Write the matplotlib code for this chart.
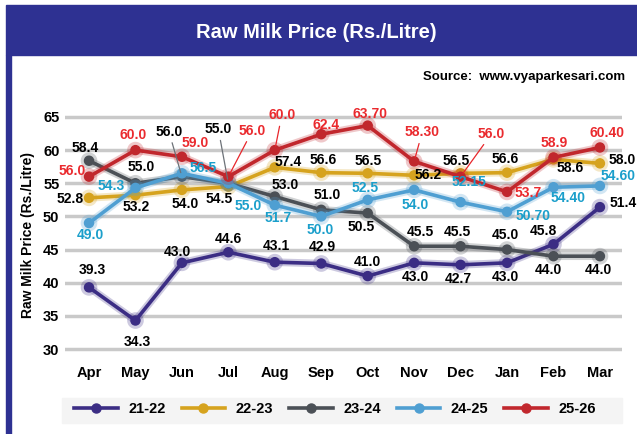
import matplotlib
matplotlib.use('Agg')
import matplotlib.pyplot as plt
import matplotlib.patheffects as pe
from matplotlib.lines import Line2D
from matplotlib.patches import Rectangle

months = ['Apr', 'May', 'Jun', 'Jul', 'Aug', 'Sep', 'Oct', 'Nov', 'Dec', 'Jan', 'Feb', 'Mar']
years = ['21-22', '22-23', '23-24', '24-25', '25-26']

v2122 = [39.3, 34.3, 43.0, 44.6, 43.1, 42.9, 41.0, 43.0, 42.7, 43.0, 45.8, 51.4]
v2223 = [52.8, 53.2, 54.0, 54.5, 57.4, 56.6, 56.5, 56.2, 56.5, 56.6, 58.6, 58.0]
v2324 = [58.4, 55.0, 56.0, 55.0, 53.0, 51.0, 50.5, 45.5, 45.5, 45.0, 44.0, 44.0]
v2425 = [49.0, 54.3, 56.5, 55.0, 51.7, 50.0, 52.5, 54.0, 52.15, 50.70, 54.40, 54.60]
v2526 = [56.0, 60.0, 59.0, 56.0, 60.0, 62.4, 63.70, 58.30, 56.0, 53.7, 58.9, 60.40]

# labels as printed on the chart
t2122 = ['39.3', '34.3', '43.0', '44.6', '43.1', '42.9', '41.0', '43.0', '42.7', '43.0', '45.8', '51.4']
t2223 = ['52.8', '53.2', '54.0', '54.5', '57.4', '56.6', '56.5', '56.2', '56.5', '56.6', '58.6', '58.0']
t2324 = ['58.4', '55.0', '56.0', '55.0', '53.0', '51.0', '50.5', '45.5', '45.5', '45.0', '44.0', '44.0']
t2425 = ['49.0', '54.3', '56.5', '55.0', '51.7', '50.0', '52.5', '54.0', '52.15', '50.70', '54.40', '54.60']
t2526 = ['56.0', '60.0', '59.0', '56.0', '60.0', '62.4', '63.70', '58.30', '56.0', '53.7', '58.9', '60.40']

series = [v2122, v2223, v2324, v2425, v2526]
texts = [t2122, t2223, t2324, t2425, t2526]
line_colors = ['#3b2d84', '#d6a31e', '#4b5056', '#4f9fd2', '#c1272d']
text_colors = ['black', 'black', 'black', '#1b9fcb', '#ea2a2e']

# label offsets in pixels (dx, dy up), third item = leader line
offsets = [
    [(3, 17), (2, -21), (-5, 11), (0, 13), (2, 16), (1, 17), (0, 14),
     (1, -14), (-2, -14), (-2, -14), (-10, 13), (23, 4)],
    [(-19, -1), (1, -12), (3, -14), (-9, -12), (13, 5), (2, 13), (0, 12),
     (14, 0), (-4, 12), (-2, 14), (17, -9), (22, 3)],
    [(-4, 13), (6, 16), (-13, 45, 1), (-10, 54, 1), (10, 12), (6, 15), (-7, -14),
     (6, 14), (-3, 14), (-2, 15), (-5, -14), (-2, -14)],
    [(1, -12), (-24, 2), (21, 5), (20, -23), (3, -13), (-1, -14), (-3, 12),
     (1, -15), (8, 20), (26, -4), (15, -11), (18, 10)],
    [(-17, 6), (-2, 15), (13, 14), (24, 46, 1), (7, 35, 1), (5, 9), (2, 12),
     (8, 29, 1), (31, 43, 1), (21, -1), (1, 14), (7, 14)],
]

font = 'Liberation Sans'

fig = plt.figure(figsize=(6.37, 4.34), dpi=100)
W, H = 637, 434

# frame: blue title band and left strip
fig.patches.append(Rectangle((6 / W, 1 - 55 / H), 1, 50 / H, transform=fig.transFigure,
                             color='#2e3192', zorder=0))
fig.patches.append(Rectangle((6 / W, 0), 5 / W, 1 - 55 / H, transform=fig.transFigure,
                             color='#2e3192', zorder=0))
# legend band
fig.patches.append(Rectangle((62 / W, 1 - 423 / H), 560 / W, 25 / H, transform=fig.transFigure,
                             color='#f4f4f4', zorder=0))

fig.text(316 / W, 1 - 32 / H, 'Raw Milk Price (Rs./Litre)', color='white', fontsize=14.5,
         fontweight='bold', family=font, ha='center', va='center')
fig.text(625 / W, 1 - 77 / H, 'Source:  www.vyaparkesari.com', color='black', fontsize=9.5,
         fontweight='bold', family=font, ha='right', va='center')

ax = fig.add_axes([65 / W, 1 - 362.3 / H, 557 / W, 258.6 / H])
ax.set_xlim(-0.517, 11.475)
ax.set_ylim(28, 67)
for s in ax.spines.values():
    s.set_visible(False)
ax.set_yticks(range(30, 66, 5))
ax.set_xticks(range(12))
ax.set_xticklabels(months)
ax.tick_params(length=0)
ax.tick_params(axis='y', pad=4)
ax.tick_params(axis='x', pad=3)
for lab in ax.get_xticklabels() + ax.get_yticklabels():
    lab.set_fontweight('bold')
    lab.set_fontsize(10.5)
    lab.set_family(font)
ax.grid(axis='y', color='#c9c9c9', lw=2.5)
ax.set_axisbelow(True)
ax.set_ylabel('Raw Milk Price (Rs./Litre)', fontsize=10, fontweight='bold', family=font)
ax.yaxis.set_label_coords(-0.054, 0.492)

x = list(range(12))
for vals, col, name in zip(series, line_colors, years):
    ax.plot(x, vals, color=col, lw=2.6, marker='o', ms=6.5, label=name, zorder=3,
            path_effects=[pe.Stroke(linewidth=5.5, foreground=col, alpha=0.25), pe.Normal()])

for vals, labs, offs, tc in zip(series, texts, offsets, text_colors):
    for i, (v, t, o) in enumerate(zip(vals, labs, offs)):
        kw = {}
        if len(o) > 2:
            lead = '#e8262b' if tc != 'black' else '#6d7278'
            kw['arrowprops'] = dict(arrowstyle='-', color=lead, lw=0.9, shrinkA=1, shrinkB=3)
        ax.annotate(t, (i, v), xytext=(o[0], o[1]), textcoords='offset pixels',
                    ha='center', va='center', fontsize=10, fontweight='bold',
                    family=font, color=tc, zorder=5, **kw)

handles = [Line2D([], [], color=c, lw=2.6, marker='o', ms=6.5) for c in line_colors]
fig.legend(handles, years, loc='center', bbox_to_anchor=(335 / W, 1 - 409 / H), ncol=5,
           frameon=False, handlelength=3.0, handletextpad=0.7, columnspacing=1.1,
           prop={'family': font, 'weight': 'bold', 'size': 10.5})

fig.savefig('out.png', dpi=100)
